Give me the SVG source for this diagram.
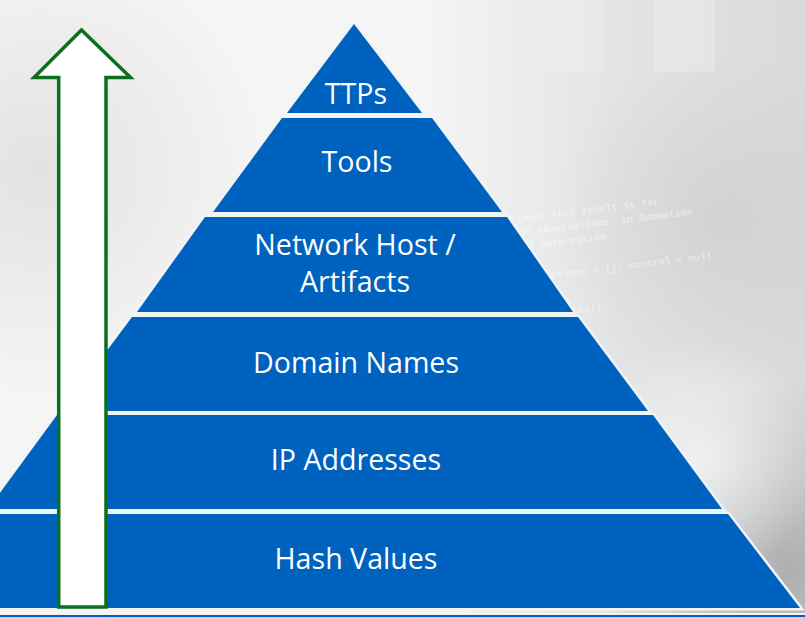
<svg xmlns="http://www.w3.org/2000/svg" width="805" height="617" viewBox="0 0 805 617">
  <defs>
    <style>
      .layer { fill: #0062BF; stroke: #F1F3F5; stroke-width: 5; stroke-linejoin: miter; paint-order: stroke; }
      .lbl { fill: #FFFFFF; font-family: "Open Sans", "Noto Sans", "Liberation Sans", sans-serif; font-size: 28.6px; text-anchor: middle; }
      .code { fill: #FFFFFF; fill-opacity: 0.45; font-family: "Liberation Mono", "DejaVu Sans Mono", monospace; font-size: 10px; font-weight: bold; }
    </style>
    <radialGradient id="leftShade" cx="40" cy="170" r="230" gradientUnits="userSpaceOnUse">
      <stop offset="0" stop-color="#E2E2E2" stop-opacity="1"/>
      <stop offset="1" stop-color="#E2E2E2" stop-opacity="0"/>
    </radialGradient>
    <linearGradient id="rightShade" x1="420" y1="0" x2="805" y2="0" gradientUnits="userSpaceOnUse">
      <stop offset="0" stop-color="#DCDEE0" stop-opacity="0"/>
      <stop offset="0.5" stop-color="#DCDEE0" stop-opacity="0.75"/>
      <stop offset="1" stop-color="#D6D8DA" stop-opacity="0.95"/>
    </linearGradient>
    <radialGradient id="darkCorner" cx="790" cy="570" r="190" gradientUnits="userSpaceOnUse">
      <stop offset="0" stop-color="#A8AAAC" stop-opacity="0.9"/>
      <stop offset="1" stop-color="#A8AAAC" stop-opacity="0"/>
    </radialGradient>
    <radialGradient id="midGray" cx="720" cy="220" r="170" gradientUnits="userSpaceOnUse">
      <stop offset="0" stop-color="#C8CACC" stop-opacity="0.6"/>
      <stop offset="1" stop-color="#C8CACC" stop-opacity="0"/>
    </radialGradient>
    <radialGradient id="lightSpot" cx="700" cy="460" r="120" gradientUnits="userSpaceOnUse">
      <stop offset="0" stop-color="#F2F3F4" stop-opacity="0.9"/>
      <stop offset="1" stop-color="#F2F3F4" stop-opacity="0"/>
    </radialGradient>
  </defs>

  <!-- background -->
  <g id="background">
    <rect x="0" y="0" width="805" height="617" fill="#F5F5F6"/>
    <rect x="0" y="0" width="805" height="617" fill="url(#leftShade)"/>
    <rect x="0" y="0" width="805" height="617" fill="url(#rightShade)"/>
    <rect x="0" y="0" width="805" height="617" fill="url(#midGray)"/>
    <rect x="0" y="0" width="805" height="617" fill="url(#darkCorner)"/>
    <rect x="0" y="0" width="805" height="617" fill="url(#lightSpot)"/>
    <rect x="545" y="0" width="60" height="72" fill="#F4F5F6" fill-opacity="0.3"/>
    <rect x="653" y="0" width="62" height="72" fill="#F4F5F6" fill-opacity="0.3"/>
    <g transform="rotate(-7 600 230)">
      <text class="code" x="500" y="212">periment this result is for</text>
      <text class="code" x="508" y="226">y of Observations, in Summation</text>
      <text class="code" x="515" y="240">rol Observation</text>
      <text class="code" x="528" y="272">ervations = [], control = null</text>
    </g>
    <text class="code" x="572" y="312" transform="rotate(-5 590 310)">trol]</text>
  </g>

  <!-- pyramid layers -->
  <g id="layer-ttps">
    <polygon class="layer" points="354,24 422,113 287,113"/>
    <text class="lbl" x="356" y="104">TTPs</text>
  </g>
  <g id="layer-tools">
    <polygon class="layer" points="282,118 432,118 502,212 213,212"/>
    <text class="lbl" x="357" y="172">Tools</text>
  </g>
  <g id="layer-network">
    <polygon class="layer" points="205,217 507,217 573,312 137,312"/>
    <text class="lbl" x="355" y="255">Network Host /</text>
    <text class="lbl" x="355" y="292">Artifacts</text>
  </g>
  <g id="layer-domain">
    <polygon class="layer" points="132,317 578,317 648,411 62,411"/>
    <text class="lbl" x="356" y="373">Domain Names</text>
  </g>
  <g id="layer-ip">
    <polygon class="layer" points="57,415 653,415 722,509 -12,509"/>
    <text class="lbl" x="356" y="470">IP Addresses</text>
  </g>
  <g id="layer-hash">
    <polygon class="layer" points="-18,514 728,514 800,608 -90,608"/>
    <text class="lbl" x="356" y="569">Hash Values</text>
  </g>
  <g id="layer-base">
    <rect x="-5" y="614" width="815" height="10" fill="#0062BF" stroke="#F1F3F5" stroke-width="2"/>
  </g>

  <!-- arrow -->
  <g id="arrow">
    <polygon points="81.5,30 130.5,77.5 106,77.5 106,607 58.7,607 58.7,77.5 34,77.5" fill="#FFFFFF" stroke="#0B6F1E" stroke-width="3.5" stroke-linejoin="miter"/>
  </g>
</svg>
